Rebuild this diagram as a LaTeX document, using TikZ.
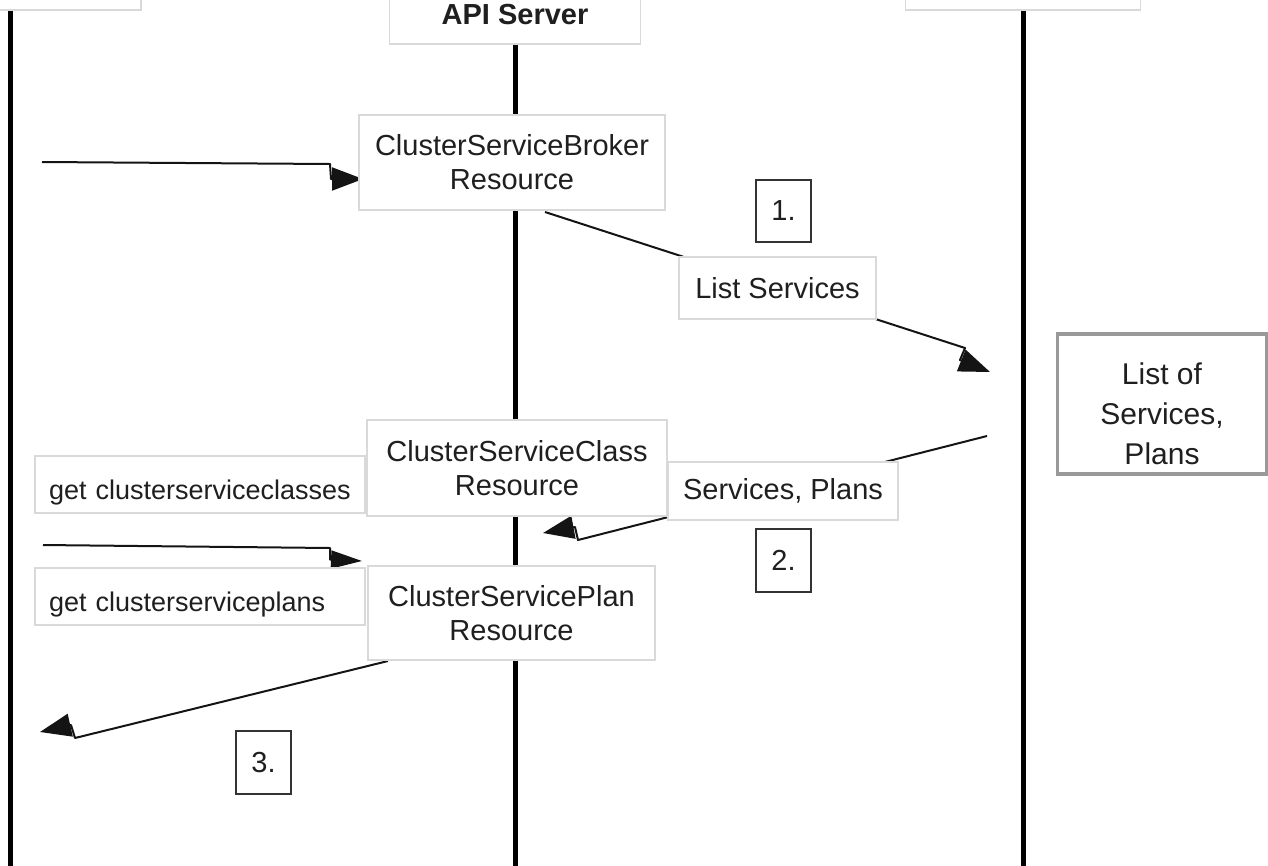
\documentclass[tikz,border=0pt]{standalone}
\usepackage{fontspec}
\setmainfont{Liberation Sans}
\usetikzlibrary{arrows.meta,backgrounds}
\begin{document}
\begin{tikzpicture}[x=1pt,y=-1pt,
  box/.style={draw=black!15, line width=1.2pt, fill=white, align=center, inner sep=0pt,
    text=black!88, font=\fontsize{29}{34}\selectfont},
  lbl/.style={box, text width=302pt, align=left, inner xsep=14pt, inner ysep=0pt,
    minimum height=57pt, text height=30pt, text depth=0pt, font=\fontsize{27}{32}\selectfont},
  numbox/.style={draw=black!80, line width=1.6pt, fill=white, inner sep=0pt,
    minimum width=55pt, minimum height=62pt, text=black!88, font=\fontsize{29}{34}\selectfont},
  bigbox/.style={box, draw=black!40, line width=3.5pt},
  plain/.style={align=center, inner sep=0pt, text=black!88},
  life/.style={line width=5pt},
  conn/.style={line width=2pt, line join=round, draw=black!92},
  arr/.style={conn, -{Triangle[length=31pt,width=23pt]}},
  arrthin/.style={conn, -{Triangle[length=31pt,width=18pt]}},
]
\useasboundingbox (0,0) rectangle (1268,865);
\clip (0,0) rectangle (1268,865);

% lifeline heads
\node[box, minimum width=262pt, minimum height=50pt] (ltop) at (10,-15) {};
\node[box, minimum width=251pt, minimum height=58pt, font=\bfseries\fontsize{29}{34}\selectfont] (api) at (515,15) {API Server};
\node[box, minimum width=235pt, minimum height=50pt] (rtop) at (1023,-15) {};

% resources
\node[box, minimum width=306pt, minimum height=95pt] (broker) at (512,162.5) {ClusterServiceBroker\\Resource};
\node[lbl] (getcls) at (200,484.5) {get clusterserviceclasses};
\node[box, minimum width=300pt, minimum height=96pt] (class) at (517,468) {ClusterServiceClass\\Resource};
\node[lbl] (getpl) at (200,596.5) {get clusterserviceplans};
\node[box, minimum width=287pt, minimum height=94pt] (plan) at (511.5,613) {ClusterServicePlan\\Resource};

% message labels
\node[box, minimum width=197pt, minimum height=62pt] (listsvc) at (777.5,288) {List Services};
\node[box, minimum width=230pt, minimum height=58pt] (svcpl) at (783,491) {Services, Plans};
\node[bigbox, minimum width=209pt, minimum height=140pt] (listof) at (1162,404) {};
\node[plain, font=\fontsize{30}{40}\selectfont, yshift=-10pt] (listoftxt) at (listof.center) {List of\\Services,\\Plans};

% step numbers
\node[numbox] (n1) at (783.5,211) {1.};
\node[numbox, minimum height=63pt] (n2) at (783.5,560.5) {2.};
\node[numbox, minimum height=63pt] (n3) at (263.5,762.5) {3.};

\coordinate (bot) at (0,875);
\coordinate (a0s) at (42,162);
\coordinate (a0m) at (330,164);
\coordinate (a0h) at (331,179);
\coordinate (a0t) at (363,179);
\coordinate (a1s) at (545,212);
\coordinate (a1m) at (965,348);
\coordinate (a1h) at (960,360);
\coordinate (a1t) at (990,372);
\coordinate (a2s) at (987,436);
\coordinate (a2m) at (578,540);
\coordinate (a2h) at (575,527);
\coordinate (a2t) at (543,533);
\coordinate (a4s) at (43,545);
\coordinate (a4m) at (330,548);
\coordinate (a4h) at (330,559.5);
\coordinate (a4t) at (362,561);
\coordinate (a3s) at (388,661);
\coordinate (a3m) at (75,738);
\coordinate (a3h) at (71,725);
\coordinate (a3t) at (40,732);

\begin{scope}[on background layer]
  \draw[life] (ltop.south) -- (ltop.south |- bot);
  \draw[life] (api.south) -- (api.south |- bot);
  \draw[life] (rtop.south) -- (rtop.south |- bot);
  \draw[arr] (a0s) -- (a0m) -- (a0h) -- (a0t);
  \draw[arr] (a1s) -- (a1m) -- (a1h) -- (a1t);
  \draw[arr] (a2s) -- (a2m) -- (a2h) -- (a2t);
  \draw[arrthin] (a4s) -- (a4m) -- (a4h) -- (a4t);
  \draw[arr] (a3s) -- (a3m) -- (a3h) -- (a3t);
\end{scope}
\end{tikzpicture}
\end{document}
